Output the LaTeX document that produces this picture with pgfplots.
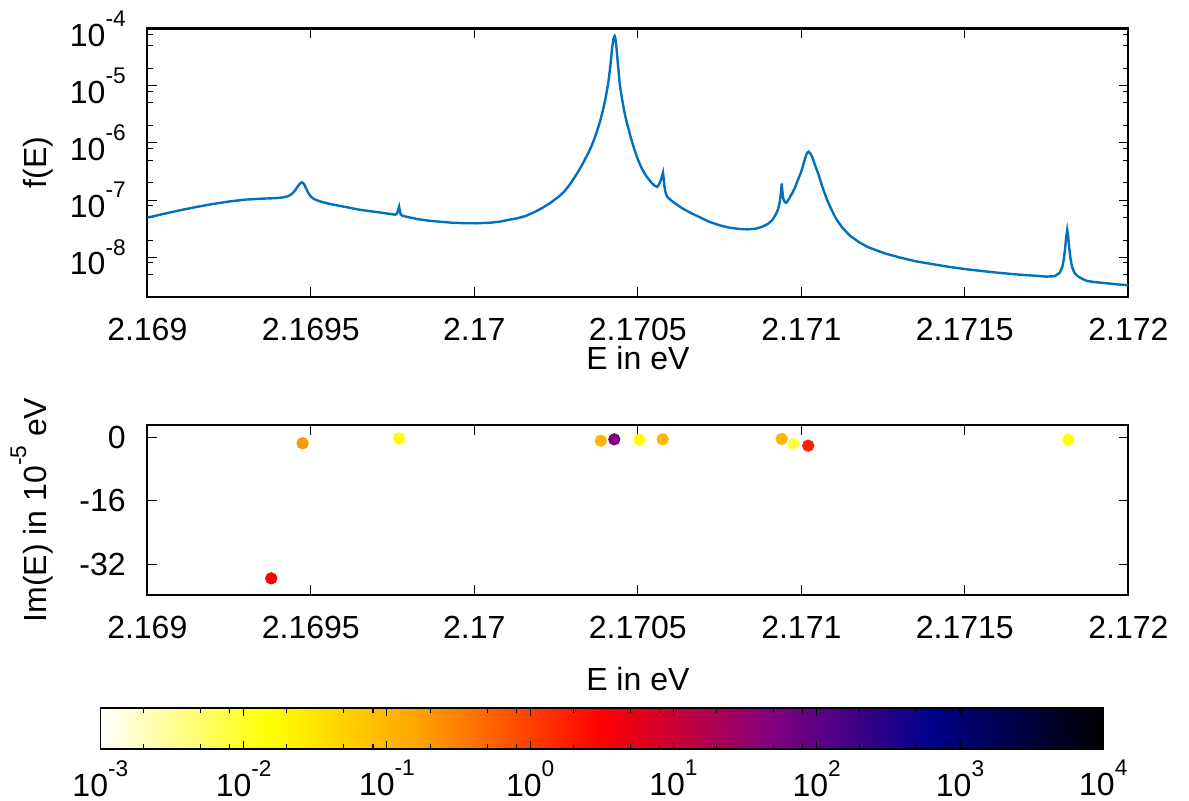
\documentclass[border=0pt]{standalone}
\usepackage{fontspec}
\setmainfont{Liberation Sans}
\usepackage{pgfplots}
\pgfplotsset{compat=1.18}

\definecolor{specblue}{RGB}{0,114,189}
% superscript as gnuplot sets it
\newcommand{\sups}[1]{\raisebox{0.62em}{\fontsize{8.5}{9}\selectfont #1}}

\pgfplotsset{
  colormap={hotr}{rgb255(0cm)=(255,255,255) rgb255(1.2cm)=(255,255,0)
    rgb255(2.2cm)=(255,165,0) rgb255(3.5cm)=(255,0,0) rgb255(4.7cm)=(128,0,128)
    rgb255(5.8cm)=(0,0,139) rgb255(7cm)=(0,0,0)},
  frame/.style={
    scale only axis,
    tick align=inside, xtick pos=both, ytick pos=both,
    xticklabel pos=lower, yticklabel pos=left,
    major tick length=3.6pt, minor tick length=2pt,
    every tick/.style={black, line width=0.4pt},
    axis line style={line width=0.8pt},
  },
  panel/.style={
    frame, width=367.9pt,
    xmin=0, xmax=3000,
    xtick={0,500,...,3000},
    xticklabels={2.169,2.1695,2.17,2.1705,2.171,2.1715,2.172},
    xticklabel style={yshift=-3.9pt},
    yticklabel style={xshift=-3.9pt},
    xlabel={E in eV},
    ylabel style={at={(axis description cs:-0.085,0.5)}, anchor=south},
  },
}

\begin{document}
\fontsize{12}{14}\selectfont
\begin{tikzpicture}
% E is given as offset from 2.169 eV in micro-eV (x = (E-2.169 eV)*1e6)
\begin{axis}[panel, name=top, height=100.7pt,
  ymode=log, ymin=2.02e-9, ymax=1e-4,
  ytick={1e-8,1e-7,1e-6,1e-5,1e-4},
  yticklabels={10\sups{-8},10\sups{-7},10\sups{-6},10\sups{-5},10\sups{-4}},
  minor ytick={5e-9,8e-9,2e-8,5e-8,8e-8,2e-7,5e-7,8e-7,2e-6,5e-6,8e-6,2e-5,5e-5,8e-5},
  ylabel={f(E)},
  xlabel style={at={(axis description cs:0.5,0)}, anchor=north, yshift=-14.2pt},
]
\addplot[specblue, line width=0.9pt] table {
0 4.93e-8
50 5.75e-8
100 6.64e-8
150 7.59e-8
200 8.55e-8
250 9.44e-8
300 1.02e-7
350 1.06e-7
390 1.08e-7
413 1.11e-7
428 1.16e-7
438 1.23e-7
446 1.35e-7
453 1.51e-7
459 1.70e-7
464 1.86e-7
468 1.97e-7
473 2.04e-7
477 1.97e-7
481 1.82e-7
486 1.58e-7
492 1.35e-7
499 1.17e-7
507 1.07e-7
517 1.00e-7
530 9.44e-8
560 8.51e-8
606 7.59e-8
650 6.76e-8
709 6.11e-8
740 5.75e-8
758 5.56e-8
764 5.89e-8
767 6.76e-8
770 7.67e-8
772 6.61e-8
775 5.62e-8
780 5.31e-8
800 5.01e-8
830 4.62e-8
860 4.37e-8
893 4.20e-8
930 4.03e-8
965 3.95e-8
1003 3.93e-8
1050 4.03e-8
1080 4.22e-8
1105 4.52e-8
1130 4.79e-8
1156 5.25e-8
1180 6.03e-8
1207 7.24e-8
1232 8.91e-8
1258 1.148e-7
1275 1.41e-7
1289 1.78e-7
1300 2.19e-7
1309 2.63e-7
1320 3.31e-7
1330 4.17e-7
1340 5.37e-7
1350 6.92e-7
1358 8.71e-7
1365 1.096e-6
1373 1.48e-6
1381 2.04e-6
1386 2.57e-6
1391 3.31e-6
1396 4.37e-6
1401 5.89e-6
1405 7.94e-6
1409 1.07e-5
1413 1.585e-5
1416 2.24e-5
1419 3.31e-5
1422 4.79e-5
1425 6.31e-5
1427 7.08e-5
1429 7.41e-5
1431 6.92e-5
1433 5.75e-5
1435 4.37e-5
1438 2.82e-5
1442 1.55e-5
1445 1.047e-5
1448 7.94e-6
1452 5.75e-6
1457 3.98e-6
1462 2.88e-6
1467 2.19e-6
1472 1.74e-6
1478 1.26e-6
1485 9.33e-7
1491 7.24e-7
1497 5.75e-7
1503 4.68e-7
1510 3.80e-7
1518 3.09e-7
1526 2.63e-7
1534 2.29e-7
1544 1.95e-7
1552 1.78e-7
1559 1.70e-7
1563 1.82e-7
1567 2.00e-7
1571 2.29e-7
1574 2.63e-7
1577 3.02e-7
1579 2.40e-7
1581 1.82e-7
1584 1.41e-7
1589 1.17e-7
1595 1.07e-7
1605 9.55e-8
1620 8.30e-8
1636 7.18e-8
1660 6.03e-8
1690 5.00e-8
1717 4.20e-8
1750 3.63e-8
1779 3.31e-8
1810 3.13e-8
1835 3.08e-8
1860 3.16e-8
1881 3.44e-8
1897 3.80e-8
1911 4.47e-8
1922 5.62e-8
1930 7.24e-8
1935 1.00e-7
1938 1.41e-7
1940 1.95e-7
1942 1.41e-7
1945 1.05e-7
1949 9.30e-8
1954 9.00e-8
1960 1.00e-7
1966 1.15e-7
1972 1.32e-7
1979 1.58e-7
1986 2.00e-7
1992 2.45e-7
1998 2.95e-7
2004 3.80e-7
2009 4.79e-7
2013 5.75e-7
2017 6.60e-7
2022 7.03e-7
2027 6.60e-7
2033 5.75e-7
2040 4.37e-7
2047 3.39e-7
2053 2.75e-7
2060 2.04e-7
2068 1.48e-7
2079 1.00e-7
2090 7.24e-8
2100 5.50e-8
2109 4.47e-8
2125 3.31e-8
2140 2.69e-8
2150 2.36e-8
2175 1.86e-8
2201 1.53e-8
2230 1.32e-8
2260 1.15e-8
2303 9.86e-9
2350 8.51e-9
2405 7.53e-9
2455 6.76e-9
2507 6.17e-9
2560 5.69e-9
2609 5.32e-9
2660 5.01e-9
2711 4.78e-9
2750 4.60e-9
2775 4.68e-9
2790 5.37e-9
2798 6.76e-9
2803 9.60e-9
2807 1.51e-8
2810 2.29e-8
2813 3.00e-8
2816 2.29e-8
2819 1.51e-8
2823 9.60e-9
2828 6.76e-9
2835 5.37e-9
2845 4.68e-9
2860 4.17e-9
2874 3.85e-9
2900 3.67e-9
2936 3.51e-9
2970 3.35e-9
3000 3.24e-9
};
\end{axis}

\begin{axis}[panel, name=bot, height=63.75pt,
  at={(top.south west)}, anchor=north west, yshift=-48pt,
  ymin=-39.7, ymax=3.1,
  ytick={-32,-16,0}, yticklabels={-32,-16,0},
  ylabel={Im(E) in 10\sups{-5} eV},
  xlabel style={at={(axis description cs:0.5,0)}, anchor=north, yshift=-22.8pt},
  colormap name=hotr,
  point meta min=-3, point meta max=4,
]
% meta = log10 of the weight shown by the colour scale
\addplot[scatter, only marks, mark=*, mark size=2.1pt, point meta=explicit,
  scatter/use mapped color={draw=mapped color, fill=mapped color}]
  coordinates {
  (379,-35.5) [0.5]
  (475,-1.5) [-0.7]
  (770,-0.25) [-1.8]
  (1387,-0.85) [-1.0]
  (1428,-0.5) [1.7]
  (1505,-0.6) [-1.8]
  (1576,-0.5) [-1.0]
  (1940,-0.4) [-1.0]
  (1976,-1.6) [-2.1]
  (2021,-2.1) [0.25]
  (2816,-0.6) [-1.8]
};
\end{axis}

% colour scale, log10 of the weight from -3 to 4
\begin{axis}[frame, name=cb, width=376.1pt, height=15.4pt,
  at={(bot.south west)}, anchor=north west, xshift=-17.6pt, yshift=-42.4pt,
  xmin=-3, xmax=4, ymin=0, ymax=1, ytick=\empty,
  xtick={-3,...,4},
  xticklabels={10\sups{-3},10\sups{-2},10\sups{-1},10\sups{0},10\sups{1},10\sups{2},10\sups{3},10\sups{4}},
  minor xtick={-2.699,-2.301,-2.097,-1.699,-1.301,-1.097,-0.699,-0.301,-0.097,
    0.301,0.699,0.903,1.301,1.699,1.903,2.301,2.699,2.903,3.301,3.699,3.903},
  major tick length=3pt, minor tick length=2pt,
  axis line style={line width=0.6pt},
  xticklabel style={yshift=0pt},
  colormap name=hotr, point meta min=-3, point meta max=4,
  axis on top,
]
\addplot[patch, patch type=rectangle, shader=interp, point meta=x] coordinates {
  (-3,0) (-1.8,0) (-1.8,1) (-3,1)
  (-1.8,0) (-0.8,0) (-0.8,1) (-1.8,1)
  (-0.8,0) (0.5,0) (0.5,1) (-0.8,1)
  (0.5,0) (1.7,0) (1.7,1) (0.5,1)
  (1.7,0) (2.8,0) (2.8,1) (1.7,1)
  (2.8,0) (4,0) (4,1) (2.8,1)
};
\end{axis}
\pgfresetboundingbox
\path[use as bounding box] (top.north west) ++(-55.24pt,10.69pt) rectangle ++(445.875pt,-300.375pt);
\end{tikzpicture}
\end{document}
